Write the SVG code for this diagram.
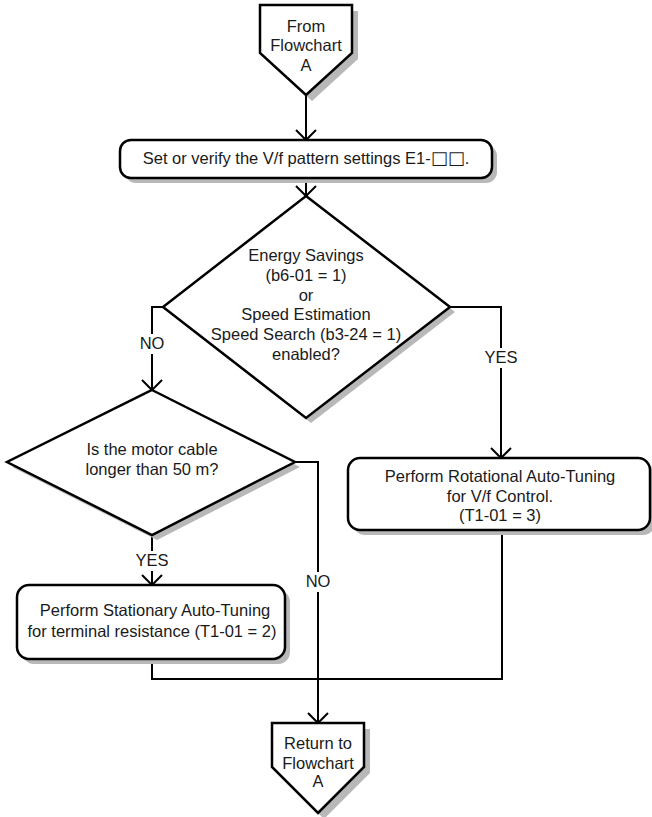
<svg xmlns="http://www.w3.org/2000/svg" width="652" height="817" viewBox="0 0 652 817">
<style>
  .shape { fill: #ffffff; stroke: #000000; stroke-width: 2.5; stroke-linejoin: miter; }
  .shadow { fill: #b8b8b8; stroke: none; }
  .txt { font-family: "Liberation Sans", Arial, sans-serif; font-size: 16.5px; fill: #1a1a1a; text-anchor: middle; }
  .sq { font-family: "DejaVu Sans", sans-serif; font-size: 18px; }
  .conn { fill: none; stroke: #000000; stroke-width: 2; }
  .lblbg { fill: #ffffff; stroke: none; }
</style>
<defs>
  <marker id="arrow" markerUnits="userSpaceOnUse" orient="auto" viewBox="-12 -12 24 24" markerWidth="24" markerHeight="24" refX="0" refY="0">
    <path d="M-10,-10 L0,0 L-10,10" fill="none" stroke="#000000" stroke-width="2"/>
  </marker>
</defs>

<g id="connectors">
  <line class="conn" x1="306" y1="95" x2="306" y2="140" marker-end="url(#arrow)"/>
  <line class="conn" x1="306" y1="178" x2="306" y2="196" marker-end="url(#arrow)"/>
  <polyline class="conn" points="163,307 152,307 152,390" marker-end="url(#arrow)"/>
  <polyline class="conn" points="450,307 501,307 501,458" marker-end="url(#arrow)"/>
  <line class="conn" x1="152" y1="535" x2="152" y2="585" marker-end="url(#arrow)"/>
  <polyline class="conn" points="295,462 318,462 318,723" marker-end="url(#arrow)"/>
  <polyline class="conn" points="152,659 152,679 502,679 502,530"/>
  <line class="conn" x1="318" y1="679" x2="318" y2="721" stroke-width="3"/>
  <rect class="lblbg" x="135" y="334" width="34" height="20"/>
  <text class="txt" x="152" y="349">NO</text>
  <rect class="lblbg" x="481" y="348" width="40" height="20"/>
  <text class="txt" x="501" y="363">YES</text>
  <rect class="lblbg" x="132" y="551" width="40" height="20"/>
  <text class="txt" x="152" y="566">YES</text>
  <rect class="lblbg" x="301" y="572" width="34" height="20"/>
  <text class="txt" x="318" y="587">NO</text>
</g>

<g id="start">
  <polygon class="shadow" points="266,11 358,11 358,59 312,101 266,59"/>
  <polygon class="shape" points="260,5 352,5 352,53 306,95 260,53"/>
  <text class="txt" x="306" y="31.5">From</text>
  <text class="txt" x="306" y="51">Flowchart</text>
  <text class="txt" x="306" y="70.5">A</text>
</g>

<g id="set-vf">
  <rect class="shadow" x="125" y="145" width="372" height="38" rx="11"/>
  <rect class="shape" x="120" y="140" width="372" height="38" rx="11"/>
  <text class="txt" x="306" y="164">Set or verify the V/f pattern settings E1-<tspan class="sq">□□</tspan>.</text>
</g>

<g id="decision-energy">
  <polygon class="shadow" points="311,201 455,312 311,423 168,312"/>
  <polygon class="shape" points="306,196 450,307 306,418 163,307"/>
  <text class="txt" x="306" y="261">Energy Savings</text>
  <text class="txt" x="306" y="281">(b6-01 = 1)</text>
  <text class="txt" x="306" y="300.5">or</text>
  <text class="txt" x="306" y="320">Speed Estimation</text>
  <text class="txt" x="306" y="340">Speed Search (b3-24 = 1)</text>
  <text class="txt" x="306" y="360">enabled?</text>
</g>

<g id="decision-cable">
  <polygon class="shadow" points="157,395 300,467 157,540 12,467"/>
  <polygon class="shape" points="152,390 295,462 152,535 7,462"/>
  <text class="txt" x="152" y="455">Is the motor cable</text>
  <text class="txt" x="152" y="475">longer than 50 m?</text>
</g>

<g id="rotational">
  <rect class="shadow" x="353" y="463" width="302" height="72" rx="12"/>
  <rect class="shape" x="348" y="458" width="302" height="72" rx="12"/>
  <text class="txt" x="500" y="482">Perform Rotational Auto-Tuning</text>
  <text class="txt" x="500" y="502">for V/f Control.</text>
  <text class="txt" x="500" y="521">(T1-01 = 3)</text>
</g>

<g id="stationary">
  <rect class="shadow" x="22" y="590" width="268" height="74" rx="12"/>
  <rect class="shape" x="17" y="585" width="268" height="74" rx="12"/>
  <text class="txt" x="155" y="616">Perform Stationary Auto-Tuning</text>
  <text class="txt" x="152" y="637">for terminal resistance (T1-01 = 2)</text>
</g>

<g id="return">
  <polygon class="shadow" points="278,729 370,729 370,773 324,819 278,773"/>
  <polygon class="shape" points="272,723 364,723 364,767 318,813 272,767"/>
  <text class="txt" x="318" y="749">Return to</text>
  <text class="txt" x="318" y="769">Flowchart</text>
  <text class="txt" x="318" y="787">A</text>
</g>
</svg>
